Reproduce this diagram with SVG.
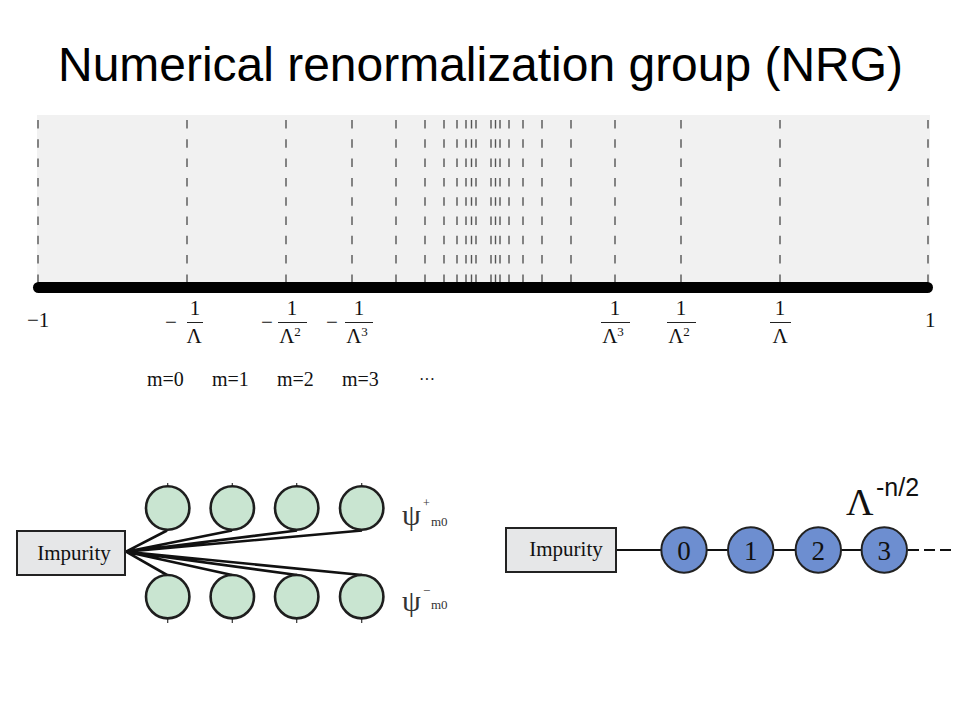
<svg xmlns="http://www.w3.org/2000/svg" width="960" height="720" viewBox="0 0 960 720">
<style>
.title{font-family:"Liberation Sans",Arial,sans-serif;font-size:48px;fill:#000}
.tm{font-family:"Liberation Serif","Times New Roman",serif;fill:#111}
.ax{font-size:21px}
.tick{stroke:#555;stroke-width:1.4;stroke-dasharray:8.5 10.8}
.fl{stroke:#222;stroke-width:1}
.gc{fill:#c9e5d1;stroke:#1e1e1e;stroke-width:2.6}
.bc{fill:#6d8ed0;stroke:#222;stroke-width:2}
.box{fill:#e6e7e8;stroke:#222;stroke-width:2}
.wire{stroke:#111;stroke-width:2.6;fill:none}
.stub{stroke:#333;stroke-width:1.2}
</style>
<rect width="960" height="720" fill="#fff"/>
<text class="title" x="58" y="81" textLength="845" lengthAdjust="spacingAndGlyphs">Numerical renormalization group (NRG)</text>

<g id="axis">
<rect x="37" y="115" width="893" height="172" fill="#f1f1f1"/>
<g>
<line class="tick" x1="38" y1="120" x2="38" y2="283"/>
<line class="tick" x1="187" y1="120" x2="187" y2="283"/>
<line class="tick" x1="286" y1="120" x2="286" y2="283"/>
<line class="tick" x1="352" y1="120" x2="352" y2="283"/>
<line class="tick" x1="396" y1="120" x2="396" y2="283"/>
<line class="tick" x1="425" y1="120" x2="425" y2="283"/>
<line class="tick" x1="444" y1="120" x2="444" y2="283"/>
<line class="tick" x1="457" y1="120" x2="457" y2="283"/>
<line class="tick" x1="466" y1="120" x2="466" y2="283"/>
<line class="tick" x1="471.5" y1="120" x2="471.5" y2="283"/>
<line class="tick" x1="476" y1="120" x2="476" y2="283"/>
<line class="tick" x1="491" y1="120" x2="491" y2="283"/>
<line class="tick" x1="495.5" y1="120" x2="495.5" y2="283"/>
<line class="tick" x1="500" y1="120" x2="500" y2="283"/>
<line class="tick" x1="509" y1="120" x2="509" y2="283"/>
<line class="tick" x1="523" y1="120" x2="523" y2="283"/>
<line class="tick" x1="542" y1="120" x2="542" y2="283"/>
<line class="tick" x1="571" y1="120" x2="571" y2="283"/>
<line class="tick" x1="615" y1="120" x2="615" y2="283"/>
<line class="tick" x1="681" y1="120" x2="681" y2="283"/>
<line class="tick" x1="780" y1="120" x2="780" y2="283"/>
<line class="tick" x1="928" y1="120" x2="928" y2="283"/>
</g>
<line x1="38.5" y1="287.5" x2="927.5" y2="287.5" stroke="#000" stroke-width="11" stroke-linecap="round"/>
<g class="tm ax">
<text x="27" y="327">−1</text>
<text x="925" y="327">1</text>
<text x="165" y="329">−</text>
<text x="195" y="315" text-anchor="middle">1</text>
<line class="fl" x1="187" y1="322.5" x2="203" y2="322.5"/>
<text x="194" y="343" text-anchor="middle">Λ</text>
<text x="261" y="329">−</text>
<text x="292" y="315" text-anchor="middle">1</text>
<line class="fl" x1="278" y1="322.5" x2="307" y2="322.5"/>
<text x="290" y="343" text-anchor="middle">Λ<tspan font-size="13" dy="-7">2</tspan></text>
<text x="326" y="329">−</text>
<text x="359" y="315" text-anchor="middle">1</text>
<line class="fl" x1="345" y1="322.5" x2="373" y2="322.5"/>
<text x="357" y="343" text-anchor="middle">Λ<tspan font-size="13" dy="-7">3</tspan></text>
<text x="615" y="315" text-anchor="middle">1</text>
<line class="fl" x1="601" y1="322.5" x2="630" y2="322.5"/>
<text x="613" y="343" text-anchor="middle">Λ<tspan font-size="13" dy="-7">3</tspan></text>
<text x="681" y="315" text-anchor="middle">1</text>
<line class="fl" x1="667" y1="322.5" x2="696" y2="322.5"/>
<text x="679" y="343" text-anchor="middle">Λ<tspan font-size="13" dy="-7">2</tspan></text>
<text x="780" y="315" text-anchor="middle">1</text>
<line class="fl" x1="770" y1="322.5" x2="791" y2="322.5"/>
<text x="780" y="343" text-anchor="middle">Λ</text>
<g font-size="20">
<text x="147" y="386">m=0</text>
<text x="212" y="386">m=1</text>
<text x="277" y="386">m=2</text>
<text x="342" y="386">m=3</text>
<text x="419" y="385" font-size="16">···</text>
</g>
</g>
</g>

<g id="connectors">
<path class="wire" d="M126,551.7 L167,530.5 M126,551.7 L232,530.5 M126,551.7 L297,530.5 M126,551.7 L362,530.5"/>
<path class="wire" d="M126,551.7 L167,575 M126,551.7 L232,575 M126,551.7 L297,575 M126,551.7 L362,575"/>
<line x1="617" y1="550" x2="661" y2="550" stroke="#111" stroke-width="2"/>
<line x1="707" y1="550" x2="728" y2="550" stroke="#111" stroke-width="2"/>
<line x1="773" y1="550" x2="796" y2="550" stroke="#111" stroke-width="2"/>
<line x1="841" y1="550" x2="862" y2="550" stroke="#111" stroke-width="2"/>
<line x1="907" y1="550" x2="952" y2="550" stroke="#111" stroke-width="2" stroke-dasharray="11 5" stroke-dashoffset="-1"/>
</g>

<g id="impurity-left">
<rect class="box" x="17" y="531" width="108" height="44"/>
<text class="tm" x="74" y="560" font-size="21" text-anchor="middle" fill="#222">Impurity</text>
</g>

<g id="star-plus">
<line class="stub" x1="167.7" y1="483" x2="167.7" y2="487"/>
<line class="stub" x1="232.3" y1="483" x2="232.3" y2="486"/>
<line class="stub" x1="296.7" y1="483" x2="296.7" y2="486"/>
<line class="stub" x1="361.7" y1="483" x2="361.7" y2="486"/>
<circle class="gc" cx="167.7" cy="508" r="21.7"/>
<circle class="gc" cx="232.3" cy="508" r="21.7"/>
<circle class="gc" cx="296.7" cy="508" r="21.7"/>
<circle class="gc" cx="361.7" cy="508" r="21.7"/>
</g>
<g id="star-minus">
<line class="stub" x1="167.7" y1="618" x2="167.7" y2="623"/>
<line class="stub" x1="232.3" y1="618" x2="232.3" y2="623"/>
<line class="stub" x1="296.7" y1="618" x2="296.7" y2="623"/>
<line class="stub" x1="361.7" y1="618" x2="361.7" y2="623"/>
<circle class="gc" cx="167.7" cy="596.7" r="21.7"/>
<circle class="gc" cx="232.3" cy="596.7" r="21.7"/>
<circle class="gc" cx="296.7" cy="596.7" r="21.7"/>
<circle class="gc" cx="361.7" cy="596.7" r="21.7"/>
</g>
<g id="psi-labels" class="tm">
<text x="402" y="525" font-size="30" fill="#333">ψ</text>
<text x="423" y="507" font-size="12" fill="#333">+</text>
<text x="431" y="526" font-size="13" fill="#333">m0</text>
<text x="402" y="611" font-size="30" fill="#333">ψ</text>
<text x="423" y="595" font-size="13" fill="#333">−</text>
<text x="431" y="609" font-size="13" fill="#333">m0</text>
</g>

<g id="impurity-right">
<rect class="box" x="506" y="528" width="110" height="44"/>
<text class="tm" x="566" y="556" font-size="21" text-anchor="middle" fill="#222">Impurity</text>
</g>
<g id="chain">
<circle class="bc" cx="684" cy="550" r="22.7"/>
<circle class="bc" cx="750.7" cy="550" r="22.7"/>
<circle class="bc" cx="818.3" cy="550" r="22.7"/>
<circle class="bc" cx="884.3" cy="550" r="22.7"/>
<g class="tm" font-size="27" text-anchor="middle" fill="#222">
<text x="684" y="560">0</text>
<text x="750.7" y="560">1</text>
<text x="818.3" y="560">2</text>
<text x="884.3" y="560">3</text>
</g>
</g>
<g id="hopping-label">
<text class="tm" x="846" y="515" font-size="38" fill="#111">Λ</text>
<text x="876" y="496" font-family="'Liberation Sans',Arial,sans-serif" font-size="25" fill="#111">-n/2</text>
</g>
</svg>
